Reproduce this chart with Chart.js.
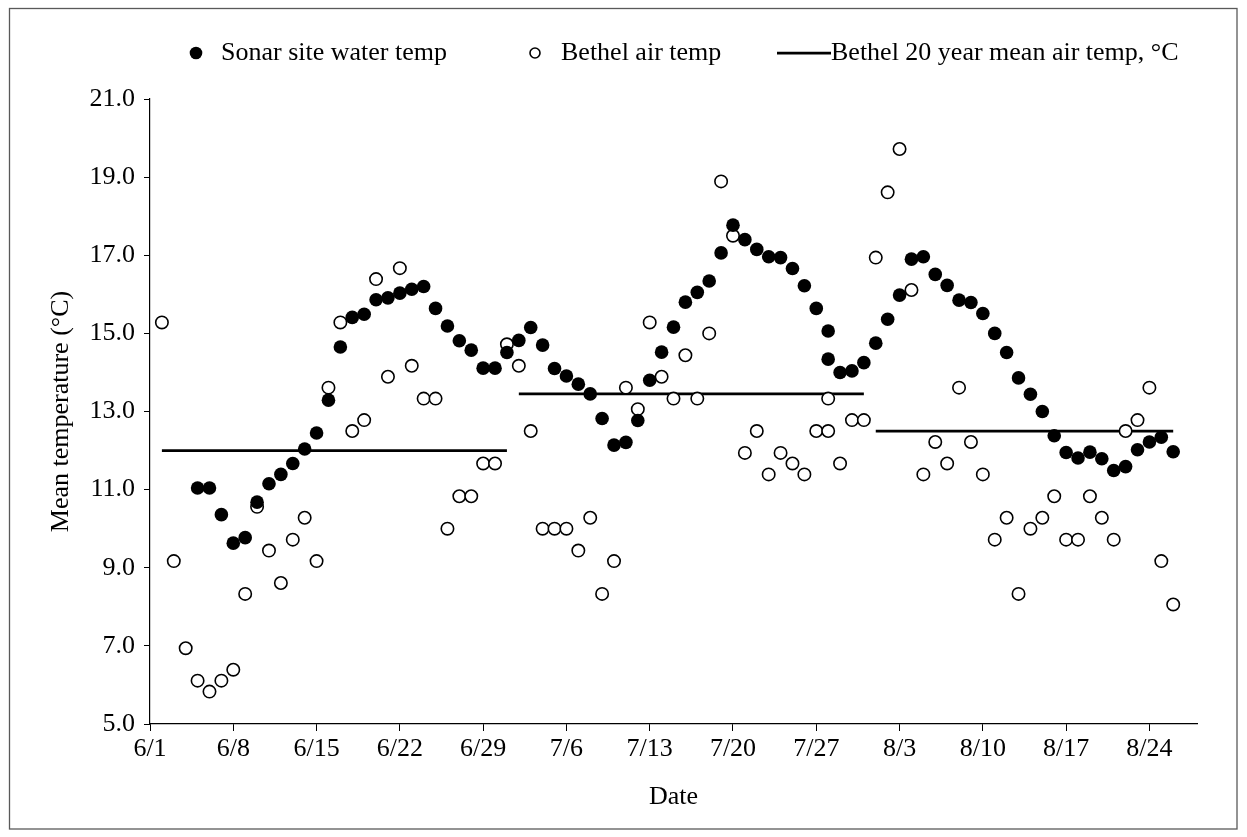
<!DOCTYPE html>
<html>
<head>
<meta charset="utf-8">
<script src="https://cdn.jsdelivr.net/npm/chart.js@4.4.1/dist/chart.umd.min.js"></script>
<style>
  html, body { margin: 0; padding: 0; background: #fff; }
  #wrap { width: 1247px; height: 837px; position: relative; }
  canvas { display: block; }
</style>
</head>
<body>
<div id="wrap"><canvas id="c" width="1247" height="837"></canvas></div>
<script>
// Daily observation dates (7/28 was recorded twice)
const dates = [
  '6/2','6/3','6/4','6/5','6/6','6/7','6/8','6/9','6/10','6/11','6/12','6/13','6/14','6/15','6/16',
  '6/17','6/18','6/19','6/20','6/21','6/22','6/23','6/24','6/25','6/26','6/27','6/28','6/29','6/30',
  '7/1','7/2','7/3','7/4','7/5','7/6','7/7','7/8','7/9','7/10','7/11','7/12','7/13','7/14','7/15',
  '7/16','7/17','7/18','7/19','7/20','7/21','7/22','7/23','7/24','7/25','7/26','7/27','7/28','7/28',
  '7/29','7/30','7/31',
  '8/1','8/2','8/3','8/4','8/5','8/6','8/7','8/8','8/9','8/10','8/11','8/12','8/13','8/14','8/15',
  '8/16','8/17','8/18','8/19','8/20','8/21','8/22','8/23','8/24','8/25','8/26'
];

// Sonar site water temperature, deg C
const waterTemp = [
  null, null, null, 11.04, 11.04, 10.36, 9.63, 9.77, 10.68, 11.15, 11.39, 11.67, 12.04, 12.45, 13.29,
  14.65, 15.41, 15.49, 15.86, 15.91, 16.03, 16.13, 16.20, 15.64, 15.19, 14.81, 14.57, 14.11, 14.11,
  14.51, 14.82, 15.15, 14.70, 14.10, 13.91, 13.70, 13.45, 12.82, 12.14, 12.21, 12.77, 13.80, 14.52, 15.16,
  15.80, 16.05, 16.34, 17.06, 17.77, 17.40, 17.15, 16.96, 16.94, 16.66, 16.22, 15.64, 15.06, 14.34,
  14.00, 14.04, 14.25,
  14.75, 15.36, 15.98, 16.90, 16.96, 16.51, 16.23, 15.85, 15.79, 15.51, 15.00, 14.51, 13.86, 13.44, 13.00,
  12.38, 11.95, 11.81, 11.96, 11.79, 11.49, 11.59, 12.02, 12.22, 12.34, 11.97
];

// Bethel daily mean air temperature, deg C
const airTemp = [
  15.28, 9.17, 6.94, 6.11, 5.83, 6.11, 6.39, 8.33, 10.56, 9.44, 8.61, 9.72, 10.28, 9.17, 13.61,
  15.28, 12.50, 12.78, 16.39, 13.89, 16.67, 14.17, 13.33, 13.33, 10.00, 10.83, 10.83, 11.67, 11.67,
  14.72, 14.17, 12.50, 10.00, 10.00, 10.00, 9.44, 10.28, 8.33, 9.17, 13.61, 13.06, 15.28, 13.89, 13.33,
  14.44, 13.33, 15.00, 18.89, 17.50, 11.94, 12.50, 11.39, 11.94, 11.67, 11.39, 12.50, 13.33, 12.50,
  11.67, 12.78, 12.78,
  16.94, 18.61, 19.72, 16.11, 11.39, 12.22, 11.67, 13.61, 12.22, 11.39, 9.72, 10.28, 8.33, 10.00, 10.28,
  10.83, 9.72, 9.72, 10.83, 10.28, 9.72, 12.50, 12.78, 13.61, 9.17, 8.06
];

// Bethel 20-year monthly mean air temperature, deg C
const meanStart = ['6/2', '7/2', '8/1'];
const meanEnd = ['7/1', '7/31', '8/26'];
const meanAirTemp = [12.0, 13.45, 12.5];

const xTickLabels = ['6/1','6/8','6/15','6/22','6/29','7/6','7/13','7/20','7/27','8/3','8/10','8/17','8/24'];
const yMin = 5, yMax = 21, yStep = 2;

const FONT = '"Liberation Serif", "Times New Roman", serif';
const monthStart = { 6: 0, 7: 30, 8: 61 };
function dayOf(label) {
  const [m, d] = label.split('/').map(Number);
  return monthStart[m] + d - 1;
}

const waterPts = dates.map((d, i) => ({ x: dayOf(d), y: waterTemp[i] })).filter(p => p.y !== null);
const airPts = dates.map((d, i) => ({ x: dayOf(d), y: airTemp[i] }));

const meanSets = meanAirTemp.map((v, i) => ({
  type: 'line',
  label: 'Bethel 20 year mean air temp, °C',
  data: [{ x: dayOf(meanStart[i]), y: v }, { x: dayOf(meanEnd[i]), y: v }],
  borderColor: '#000',
  borderWidth: 2.75,
  pointRadius: 0,
  fill: false,
  order: 3
}));

// Frame around the figure and the key row along the top
const framePlugin = {
  id: 'frame',
  afterDraw(chart) {
    const ctx = chart.ctx;
    ctx.save();
    ctx.strokeStyle = '#595959';
    ctx.lineWidth = 1.3;
    ctx.strokeRect(9.5, 8.5, 1227.5, 820.5);

    const y = 53;
    ctx.font = '26px ' + FONT;
    ctx.fillStyle = '#000';
    ctx.textBaseline = 'middle';
    ctx.textAlign = 'left';

    ctx.beginPath();
    ctx.arc(196, y, 6.3, 0, Math.PI * 2);
    ctx.fill();
    ctx.fillText('Sonar site water temp', 221, y);

    ctx.beginPath();
    ctx.lineWidth = 1.6;
    ctx.strokeStyle = '#000';
    ctx.arc(535, y, 5, 0, Math.PI * 2);
    ctx.stroke();
    ctx.fillText('Bethel air temp', 561, y);

    ctx.beginPath();
    ctx.lineWidth = 2.75;
    ctx.moveTo(777, y);
    ctx.lineTo(831, y);
    ctx.stroke();
    ctx.fillText('Bethel 20 year mean air temp, °C', 831, y);
    ctx.restore();
  }
};

new Chart(document.getElementById('c'), {
  type: 'scatter',
  data: {
    datasets: [
      {
        label: 'Sonar site water temp',
        data: waterPts,
        pointRadius: 6.8,
        pointBackgroundColor: '#000',
        pointBorderColor: '#000',
        pointBorderWidth: 0,
        showLine: false,
        order: 1
      },
      {
        label: 'Bethel air temp',
        data: airPts,
        pointRadius: 6.2,
        pointBackgroundColor: '#fff',
        pointBorderColor: '#000',
        pointBorderWidth: 1.6,
        showLine: false,
        order: 2
      },
      ...meanSets
    ]
  },
  options: {
    responsive: false,
    animation: false,
    devicePixelRatio: 1,
    layout: { padding: { top: 99, right: 50, bottom: 0, left: 0 } },
    plugins: {
      legend: { display: false },
      tooltip: { enabled: false },
      title: { display: false }
    },
    scales: {
      x: {
        type: 'linear',
        position: 'bottom',
        min: 0,
        max: 88,
        afterBuildTicks: (scale) => { scale.ticks = xTickLabels.map(l => ({ value: dayOf(l) })); },
        afterFit: (scale) => { scale.height = 113; },
        ticks: {
          autoSkip: false,
          maxRotation: 0,
          padding: 3,
          color: '#000',
          font: { family: FONT, size: 26 },
          callback: (v, i) => xTickLabels[i]
        },
        grid: { display: true, drawOnChartArea: false, drawTicks: true, tickLength: 7, color: '#000', lineWidth: 1 },
        border: { display: true, color: '#000', width: 1.2 },
        title: {
          display: true,
          text: 'Date',
          color: '#000',
          font: { family: FONT, size: 26 },
          padding: { top: 0, bottom: 24 }
        }
      },
      y: {
        type: 'linear',
        position: 'left',
        min: yMin,
        max: yMax,
        afterFit: (scale) => { scale.width = 150; },
        ticks: {
          stepSize: yStep,
          padding: 9,
          color: '#000',
          font: { family: FONT, size: 26 },
          callback: (v) => v.toFixed(1)
        },
        grid: { display: true, drawOnChartArea: false, drawTicks: true, tickLength: 6, color: '#000', lineWidth: 1 },
        border: { display: true, color: '#000', width: 1.2 },
        title: {
          display: true,
          text: 'Mean temperature (°C)',
          color: '#000',
          font: { family: FONT, size: 26 },
          padding: { top: 46, bottom: 0 }
        }
      }
    }
  },
  plugins: [framePlugin]
});
</script>
</body>
</html>
